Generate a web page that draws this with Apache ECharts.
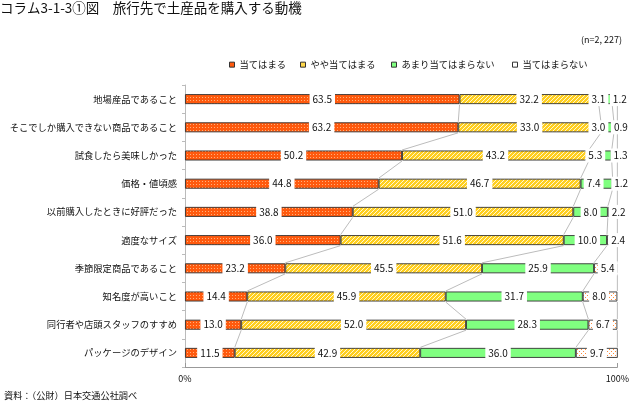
<!DOCTYPE html>
<html><head><meta charset="utf-8">
<script src="https://cdn.jsdelivr.net/npm/echarts@6/dist/echarts.min.js"></script>
<style>html,body{margin:0;padding:0;background:#fff}#c{width:632px;height:405px}</style>
</head><body><div id="c"></div>
<script>
const categories = ['地場産品であること','そこでしか購入できない商品であること','試食したら美味しかった','価格・値頃感','以前購入したときに好評だった','適度なサイズ','季節限定商品であること','知名度が高いこと','同行者や店頭スタッフのすすめ','パッケージのデザイン'];
const seriesNames = ['当てはまる','やや当てはまる','あまり当てはまらない','当てはまらない'];
const s1 = [63.5,63.2,50.2,44.8,38.8,36.0,23.2,14.4,13.0,11.5];
const s2 = [32.2,33.0,43.2,46.7,51.0,51.6,45.5,45.9,52.0,42.9];
const s3 = [3.1,3.0,5.3,7.4,8.0,10.0,25.9,31.7,28.3,36.0];
const s4 = [1.2,0.9,1.3,1.2,2.2,2.4,5.4,8.0,6.7,9.7];
const xTicks = ['0%','100%'];

// label nudges (style only)
const shift3 = [-7,-9,-5,-3,0,2,0,0,0,0];
const shift4 = [5,5,6,6,6,6,2,-1,0,0];

const FONT = '"Noto Sans CJK JP", "Noto Sans", sans-serif';
const TXT = '#111';
function pat(w,h,bg,fg,pts){
  const c=document.createElement('canvas');c.width=w;c.height=h;
  const g=c.getContext('2d');g.fillStyle=bg;g.fillRect(0,0,w,h);
  g.fillStyle=fg;pts.forEach(p=>g.fillRect(p[0],p[1],1,1));
  return {image:c,repeat:'repeat'};
}
const fills = [
  pat(3,3,'#FF5A0E','#FFB07A',[[1,1]]),
  pat(4,4,'#FFCF1F','#FFF6D0',[[3,0],[2,1],[1,2],[0,3]]),
  '#80FF80',
  pat(4,4,'#FFFFFF','#FF8A3A',[[1,1],[3,3]])
];
const legendColors = ['#FF5A0E','#FFD84A','#80FF80','#FFFFFF'];
const legendLeft = [224,295,386,507];
const allS = [s1,s2,s3,s4];
const shifts = [null,null,shift3,shift4];

function cum(i,k){let s=0;for(let j=0;j<k;j++)s+=allS[j][i];return s;}

const labelBase = {show:true,position:'inside',color:TXT,fontSize:10,fontFamily:FONT,
  backgroundColor:'#fff',padding:[1,3],lineHeight:12,formatter:p=>p.value.toFixed(1)};

const barSeries = allS.map((arr,k)=>({
  type:'bar',name:seriesNames[k],stack:'t',barWidth:10,z:2,
  itemStyle:{color:fills[k],borderColor:'#333',borderWidth:0.9},
  label:labelBase,
  data:arr.map((v,i)=>{
    const o={value:v};
    if(shifts[k]&&shifts[k][i]) o.label={offset:[shifts[k][i],0]};
    return o;
  })
}));

const chart = echarts.init(document.getElementById('c'));
chart.setOption({
  animation:false,
  textStyle:{fontFamily:FONT},
  title:[
    {text:'コラム3-1-3①図　旅行先で土産品を購入する動機',left:0,top:1,padding:0,textStyle:{fontSize:13.5,fontWeight:'normal',color:TXT,fontFamily:FONT}},
    {text:'(n=2, 227)',right:10,top:35,padding:0,textStyle:{fontSize:9,fontWeight:'normal',color:TXT,fontFamily:FONT}},
    {text:'資料：（公財）日本交通公社調べ',left:4,top:391,padding:0,textStyle:{fontSize:9.2,fontWeight:'normal',color:TXT,fontFamily:FONT}}
  ],
  legend: seriesNames.map((n,k)=>({
    data:[{name:n,itemStyle:{color:legendColors[k],borderColor:'#333',borderWidth:1}}],
    left:legendLeft[k],top:55,itemWidth:5,itemHeight:5,icon:'rect',selectedMode:false,
    textStyle:{fontSize:9.3,color:TXT,fontFamily:FONT}
  })),
  grid:{left:185,top:85,width:436,height:282},
  xAxis:{type:'value',min:0,max:100,interval:100,
    axisLine:{show:true,lineStyle:{color:'#999'}},
    axisTick:{show:true,inside:true,length:4,lineStyle:{color:'#999'}},
    splitLine:{show:false},
    axisLabel:{margin:7,fontSize:9,color:TXT,fontFamily:FONT,formatter:v=>v===0?xTicks[0]:(v===100?xTicks[1]:'')}
  },
  yAxis:{type:'category',data:categories,inverse:true,
    axisLine:{show:true,lineStyle:{color:'#bbb'}},
    axisTick:{show:true,length:3,lineStyle:{color:'#bbb'}},
    axisLabel:{margin:8,fontSize:9.3,color:TXT,fontFamily:FONT}
  },
  series:[
    {type:'custom',z:1,silent:true,clip:false,
     data:categories.slice(0,-1).map((c,i)=>[0,i]),
     encode:{x:0,y:1},
     renderItem:(params,api)=>{
       const i=params.dataIndex;const half=5.5;const ch=[];
       for(let k=1;k<=4;k++){
         const a=api.coord([Math.min(cum(i,k),100),i]);
         const b=api.coord([Math.min(cum(i+1,k),100),i+1]);
         ch.push({type:'line',shape:{x1:a[0],y1:a[1]+half,x2:b[0],y2:b[1]-half},style:{stroke:'#bcbcbc',lineWidth:1}});
       }
       return {type:'group',children:ch};
     }
    },
    ...barSeries
  ]
});
</script></body></html>
